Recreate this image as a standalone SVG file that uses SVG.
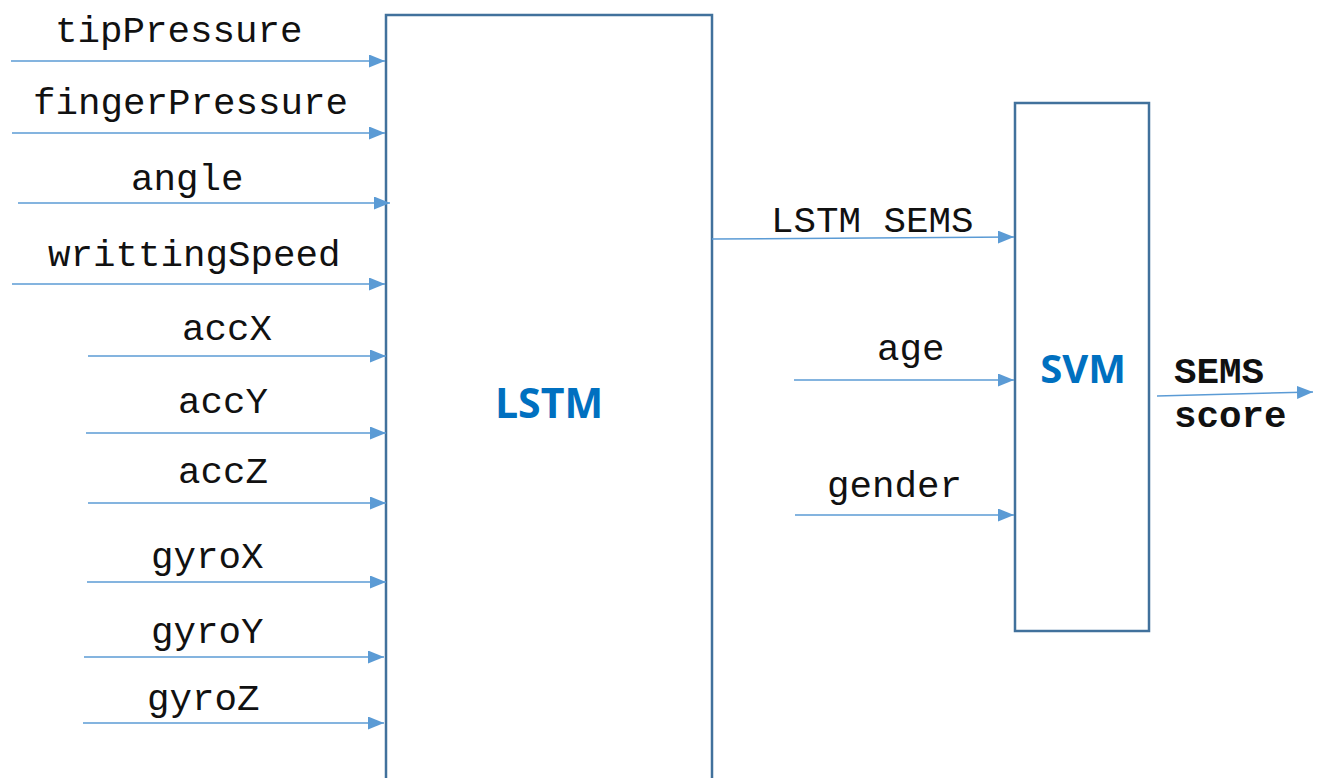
<svg xmlns="http://www.w3.org/2000/svg" width="1320" height="778" viewBox="0 0 1320 778">
<defs>
<marker id="ah" viewBox="0 0 10 10" refX="10" refY="5" markerWidth="16" markerHeight="13" markerUnits="userSpaceOnUse" orient="auto" preserveAspectRatio="none">
<path d="M0,0 L10,5 L0,10 Z" fill="#5b9bd5"/>
</marker>
<style>
.box{fill:#fff;stroke:#41719c;stroke-width:2.5}
.c{stroke:#5b9bd5;stroke-width:1.5;fill:none;marker-end:url(#ah)}
.t{font-family:"Liberation Mono","Courier New",monospace;font-size:37.5px;fill:#111}
.tb{font-family:"Liberation Mono","Courier New",monospace;font-size:37.5px;font-weight:bold;fill:#111}
.lbl{font-family:"Open Sans","Noto Sans",sans-serif;font-weight:bold;font-size:41px;fill:#0070c0;text-anchor:middle}
</style>
</defs>
<rect width="1320" height="778" fill="#fff"/>
<g id="lstm">
<rect class="box" x="386" y="15" width="326" height="800"/>
<text class="lbl" x="549" y="418">LSTM</text>
</g>
<g id="svm">
<rect class="box" x="1015" y="103" width="134" height="528"/>
<text class="lbl" x="1083" y="383" style="font-size:40px">SVM</text>
</g>
<g id="connectors">
<line class="c" x1="11" y1="61" x2="385" y2="61"/>
<line class="c" x1="12" y1="133" x2="385" y2="133"/>
<line class="c" x1="18" y1="203" x2="390" y2="203"/>
<line class="c" x1="12" y1="284" x2="385" y2="284"/>
<line class="c" x1="88" y1="356" x2="386" y2="356"/>
<line class="c" x1="86" y1="433" x2="386" y2="433"/>
<line class="c" x1="88" y1="503" x2="386" y2="503"/>
<line class="c" x1="87" y1="582" x2="386" y2="582"/>
<line class="c" x1="84" y1="657" x2="384" y2="657"/>
<line class="c" x1="83" y1="723" x2="384" y2="723"/>
<line class="c" x1="712" y1="239" x2="1014" y2="237"/>
<line class="c" x1="794" y1="380" x2="1014" y2="380"/>
<line class="c" x1="795" y1="515" x2="1014" y2="515"/>
<line class="c" x1="1157" y1="396" x2="1313" y2="392"/>
</g>
<g id="labels">
<text class="t" x="55" y="42">tipPressure</text>
<text class="t" x="33" y="114">fingerPressure</text>
<text class="t" x="131" y="190">angle</text>
<text class="t" x="48" y="266">writtingSpeed</text>
<text class="t" x="182" y="340">accX</text>
<text class="t" x="178" y="413">accY</text>
<text class="t" x="178" y="483">accZ</text>
<text class="t" x="151" y="568">gyroX</text>
<text class="t" x="151" y="643">gyroY</text>
<text class="t" x="147" y="710">gyroZ</text>
<text class="t" x="771" y="232">LSTM SEMS</text>
<text class="t" x="877" y="360">age</text>
<text class="t" x="827" y="497">gender</text>
<text class="tb" x="1174" y="383">SEMS</text>
<text class="tb" x="1174" y="427">score</text>
</g>
</svg>
